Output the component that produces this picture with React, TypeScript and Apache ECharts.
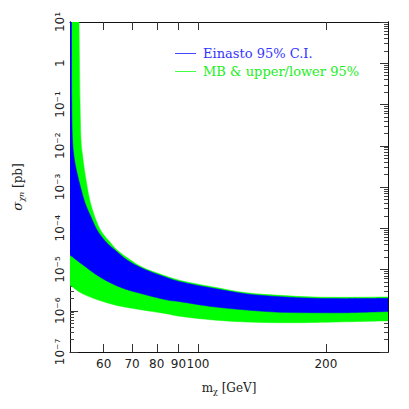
import React, { useEffect, useRef } from "react";
import * as echarts from "echarts";

// ---- data (mass in GeV, cross section in pb) ----
const massTicks = [60, 70, 80, 90, 100, 200];
const sigmaDecades = [-7, -6, -5, -4, -3, -2, -1, 0, 1];
const massRange = [50, 280];

const einastoUpper: [number, number][] = [
  [50.41, 10], [50.46, 0.1285], [50.68, 0.01377], [51.23, 4.51e-3], [52.07, 1.95e-3],
  [52.93, 1.0e-3], [54.24, 4.09e-4], [56.03, 1.87e-4], [57.88, 9.08e-5], [60.78, 4.64e-5],
  [64.16, 2.81e-5], [68.08, 1.7e-5], [73.64, 1.09e-5], [80.53, 7.57e-6], [90.73, 5.06e-6],
  [108.65, 3.5e-6], [130.2, 2.55e-6], [155.9, 2.19e-6], [186.7, 2.0e-6], [223.7, 1.96e-6],
  [280, 2.0e-6],
];
const einastoLower: [number, number][] = [
  [50, 2.25e-5], [53.28, 1.36e-5], [58.29, 6.96e-6], [63.81, 4.21e-6], [69.84, 3.01e-6],
  [83.64, 1.87e-6], [90.73, 1.66e-6], [108.65, 1.25e-6], [130.2, 1.04e-6], [155.9, 9.16e-7],
  [186.7, 8.97e-7], [223.7, 8.97e-7], [280, 9.59e-7],
];
const mbUpper: [number, number][] = [
  [52.5, 10], [52.78, 0.1285], [53.07, 0.01377], [53.51, 5.97e-3], [53.94, 3.05e-3],
  [54.68, 1.25e-3], [55.64, 4.84e-4], [57.16, 1.905e-4], [59.15, 8.58e-5], [61.77, 4.91e-5],
  [64.51, 2.97e-5], [68.82, 1.8e-5], [73.84, 1.15e-5], [80.53, 8.09e-6], [90.73, 5.44e-6],
  [108.65, 3.77e-6], [130.2, 2.72e-6], [155.9, 2.36e-6], [186.7, 2.15e-6], [223.7, 2.11e-6],
  [280, 2.15e-6],
];
const mbLower: [number, number][] = [
  [50, 4.21e-6], [53.28, 2.65e-6], [58.29, 1.82e-6], [63.81, 1.38e-6], [69.84, 1.15e-6],
  [83.64, 8.58e-7], [90.73, 7.33e-7], [108.65, 5.97e-7], [130.2, 5.34e-7], [155.9, 5.13e-7],
  [186.7, 5.2e-7], [267.9, 5.65e-7], [280, 5.8e-7],
];

const legendLabels = ["Einasto 95% C.I.", "MB & upper/lower 95%"];
const BLUE = "#0000ff";
const GREEN = "#00ff00";

const SUP: Record<string, string> = {
  "-": "\u207B", "0": "\u2070", "1": "\u00B9", "2": "\u00B2", "3": "\u00B3",
  "4": "\u2074", "5": "\u2075", "6": "\u2076", "7": "\u2077", "8": "\u2078", "9": "\u2079",
};

function decadeLabel(v: number): string {
  const n = Math.round(v);
  if (n === 0) return "1";
  return "10" + String(n).split("").map((c) => SUP[c]).join("");
}

const lg = (v: number) => Math.log10(v);
const toLog = (pts: [number, number][]) => pts.map(([m, s]) => [lg(m), lg(s)]);

// Catmull-Rom spline through pixel points, as SVG cubic segments (no initial M)
function splineSegs(p: number[][]): string {
  let d = "";
  for (let i = 0; i < p.length - 1; i++) {
    const p0 = p[Math.max(0, i - 1)];
    const p1 = p[i];
    const p2 = p[i + 1];
    const p3 = p[Math.min(p.length - 1, i + 2)];
    const c1x = p1[0] + (p2[0] - p0[0]) / 6;
    const c1y = p1[1] + (p2[1] - p0[1]) / 6;
    const c2x = p2[0] - (p3[0] - p1[0]) / 6;
    const c2y = p2[1] - (p3[1] - p1[1]) / 6;
    d += ` C${c1x.toFixed(2)},${c1y.toFixed(2)} ${c2x.toFixed(2)},${c2y.toFixed(2)} ${p2[0].toFixed(2)},${p2[1].toFixed(2)}`;
  }
  return d;
}

function bandSeries(name: string, upper: [number, number][], lower: [number, number][], color: string) {
  const up = toLog(upper);
  const lo = toLog(lower).reverse();
  const corner = [lg(massRange[0]), sigmaDecades[sigmaDecades.length - 1]];
  const all = [...up, ...lo, corner];
  return {
    type: "custom",
    name,
    xAxisIndex: 0,
    yAxisIndex: 0,
    clip: true,
    data: all,
    renderItem: (params: any, api: any) => {
      if (params.dataIndex !== 0) return null;
      const U = up.map((p) => api.coord(p));
      const L = lo.map((p) => api.coord(p));
      const C = api.coord(corner);
      let d = `M${U[0][0].toFixed(2)},${U[0][1].toFixed(2)}` + splineSegs(U);
      d += ` L${L[0][0].toFixed(2)},${L[0][1].toFixed(2)}` + splineSegs(L);
      d += ` L${C[0].toFixed(2)},${C[1].toFixed(2)} Z`;
      return {
        type: "path",
        shape: { pathData: d },
        style: { fill: color, stroke: color, lineWidth: 0.5 },
      };
    },
  };
}

export default function App() {
  const ref = useRef<HTMLDivElement>(null);
  useEffect(() => {
    document.body.style.margin = "0";
    if (!ref.current) return;
    const chart = echarts.init(ref.current, null, { renderer: "svg" });
    const xMin = lg(massRange[0]);
    const xMax = lg(massRange[1]);
    const yMin = sigmaDecades[0];
    const yMax = sigmaDecades[sigmaDecades.length - 1];
    const majorY = sigmaDecades.slice();
    const minorY: number[] = [];
    for (let d = yMin; d < yMax; d++) {
      for (let k = 2; k <= 9; k++) minorY.push(d + lg(k));
    }
    const xTickVals = massTicks.map(lg);
    const axisColor = "#111";
    const labelFont = { fontFamily: "DejaVu Sans", fontSize: 12, color: "#222" };

    const baseX = {
      type: "value",
      min: xMin,
      max: xMax,
      splitLine: { show: false },
      axisLine: { show: true, onZero: false, lineStyle: { color: axisColor, width: 1 } },
      axisTick: { show: true, inside: true, length: 8, customValues: xTickVals, lineStyle: { color: "#333" } },
    };
    const baseY = {
      type: "value",
      min: yMin,
      max: yMax,
      splitLine: { show: false },
      axisLine: { show: true, onZero: false, lineStyle: { color: axisColor, width: 1 } },
    };

    chart.setOption({
      animation: false,
      backgroundColor: "#fff",
      grid: { left: 70, right: 21, top: 22, bottom: 57, containLabel: false },
      xAxis: [
        {
          ...baseX,
          position: "bottom",
          name: "m{sub|\u03C7} [GeV]",
          nameLocation: "middle",
          nameGap: 28,
          nameTextStyle: {
            fontFamily: "DejaVu Serif",
            fontSize: 12,
            color: "#222",
            rich: { sub: { fontFamily: "DejaVu Serif", fontSize: 8, padding: [7, 0, 0, 0] } },
          },
          axisLabel: {
            show: true,
            customValues: xTickVals,
            margin: 6,
            ...labelFont,
            formatter: (v: number) => String(Math.round(Math.pow(10, v))),
          },
        },
        {
          ...baseX,
          position: "top",
          axisLabel: { show: false },
        },
      ],
      yAxis: [
        {
          ...baseY,
          position: "left",
          name: "{sig|\u03C3}{sub|\u03C7n} [pb]",
          nameLocation: "middle",
          nameGap: 45,
          nameTextStyle: {
            fontFamily: "DejaVu Serif",
            fontSize: 12,
            color: "#222",
            rich: {
              sig: { fontFamily: "DejaVu Serif", fontStyle: "italic", fontSize: 13 },
              sub: { fontFamily: "DejaVu Serif", fontStyle: "italic", fontSize: 8, padding: [7, 0, 0, 0] },
            },
          },
          axisTick: { show: true, inside: true, length: 8, customValues: majorY, lineStyle: { color: "#333" } },
          axisLabel: {
            show: true,
            rotate: 90,
            customValues: majorY,
            margin: 4,
            ...labelFont,
            formatter: decadeLabel,
          },
        },
        {
          ...baseY,
          position: "right",
          axisTick: { show: true, inside: true, length: 8, customValues: majorY, lineStyle: { color: "#333" } },
          axisLabel: { show: false },
        },
        {
          ...baseY,
          position: "left",
          axisTick: { show: true, inside: true, length: 4, customValues: minorY, lineStyle: { color: "#444" } },
          axisLabel: { show: false },
        },
        {
          ...baseY,
          position: "right",
          axisTick: { show: true, inside: true, length: 4, customValues: minorY, lineStyle: { color: "#444" } },
          axisLabel: { show: false },
        },
      ],
      series: [
        bandSeries(legendLabels[1], mbUpper, mbLower, GREEN),
        bandSeries(legendLabels[0], einastoUpper, einastoLower, BLUE),
      ],
      graphic: [
        { type: "line", shape: { x1: 175, y1: 53.5, x2: 196, y2: 53.5 }, style: { stroke: "#4646ff", lineWidth: 1 } },
        {
          type: "text", x: 203, y: 53.5,
          style: { text: legendLabels[0], fill: "#3434ff", font: "13px 'DejaVu Serif'", verticalAlign: "middle" },
        },
        { type: "line", shape: { x1: 175, y1: 71.5, x2: 196, y2: 71.5 }, style: { stroke: "#44ff44", lineWidth: 1 } },
        {
          type: "text", x: 203, y: 71.5,
          style: { text: legendLabels[1], fill: "#22ee22", font: "13px 'DejaVu Serif'", verticalAlign: "middle" },
        },
      ],
    });
    return () => chart.dispose();
  }, []);
  return <div ref={ref} style={{ width: 409, height: 409 }} />;
}
